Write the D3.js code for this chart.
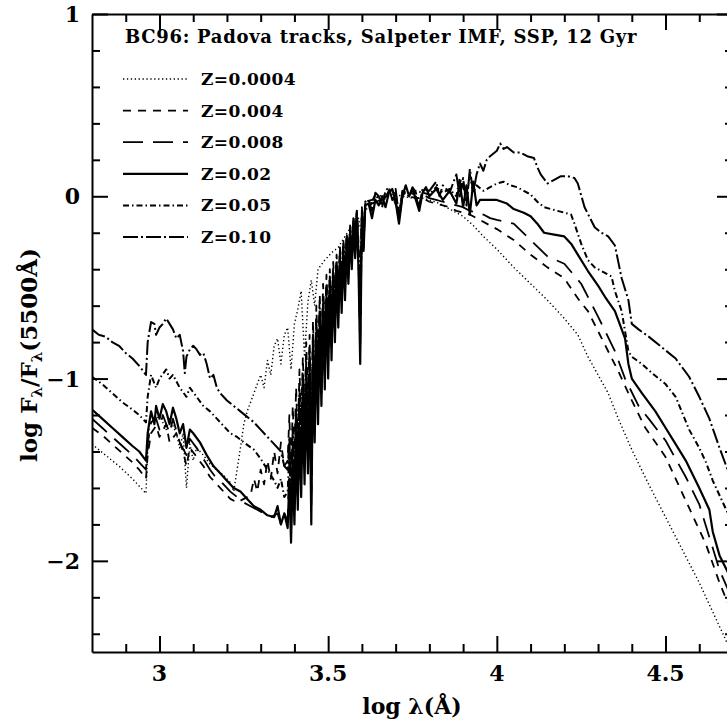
<!DOCTYPE html>
<html>
<head>
<meta charset="utf-8">
<script src="https://cdn.jsdelivr.net/npm/d3@7"></script>
<style>
  body { margin: 0; background: #fff; }
  svg text { font-family: "DejaVu Serif", serif; fill: #000; }
</style>
</head>
<body>
<div id="chart"></div>
<script>
// tick labels
var xTickLabels = [3, 3.5, 4, 4.5];
var yTickLabels = [1, 0, -1, -2];

var title = "BC96: Padova tracks, Salpeter IMF, SSP, 12 Gyr";
var seriesNames = ["Z=0.0004", "Z=0.004", "Z=0.008", "Z=0.02", "Z=0.05", "Z=0.10"];

// [log lambda, log F/F(5500)]
var z0004 = [[2.80,-1.36],[2.84,-1.42],[2.88,-1.48],[2.92,-1.55],[2.96,-1.63],[2.965,-1.40],[2.97,-1.25],[2.99,-1.22],[3.00,-1.20],[3.02,-1.28],[3.03,-1.22],[3.05,-1.30],[3.06,-1.38],[3.07,-1.30],[3.08,-1.60],[3.09,-1.36],[3.10,-1.45],[3.11,-1.38],[3.13,-1.42],[3.15,-1.47],[3.17,-1.50],[3.19,-1.53],[3.21,-1.57],[3.22,-1.62],[3.23,-1.50],[3.24,-1.38],[3.25,-1.25],[3.26,-1.18],[3.28,-1.08],[3.30,-0.98],[3.31,-1.05],[3.32,-0.90],[3.33,-0.98],[3.34,-0.82],[3.35,-0.78],[3.36,-0.92],[3.37,-0.76],[3.38,-0.72],[3.39,-0.95],[3.40,-0.70],[3.41,-0.62],[3.42,-0.52],[3.43,-0.88],[3.44,-0.58],[3.45,-0.46],[3.46,-0.60],[3.47,-0.40],[3.49,-0.35],[3.51,-0.31],[3.53,-0.28],[3.55,-0.22],[3.57,-0.16],[3.59,-0.12],[3.60,-0.22],[3.61,-0.08],[3.63,-0.03],[3.65,0.00],[3.67,0.01],[3.70,0.01],[3.72,0.00],[3.75,-0.01],[3.78,-0.01],[3.80,-0.02],[3.83,-0.04],[3.86,-0.07],[3.90,-0.11],[3.93,-0.16],[3.96,-0.22],[4.00,-0.29],[4.05,-0.39],[4.10,-0.48],[4.15,-0.57],[4.20,-0.67],[4.24,-0.76],[4.27,-0.88],[4.30,-0.98],[4.33,-1.08],[4.36,-1.22],[4.40,-1.39],[4.45,-1.58],[4.50,-1.76],[4.55,-1.94],[4.60,-2.12],[4.63,-2.24],[4.66,-2.36],[4.70,-2.52]];

var z004 = [[2.80,-1.27],[2.83,-1.31],[2.86,-1.36],[2.89,-1.41],[2.92,-1.46],[2.94,-1.50],[2.96,-1.55],[2.965,-1.42],[2.975,-1.30],[2.99,-1.26],[3.00,-1.32],[3.02,-1.25],[3.03,-1.35],[3.05,-1.30],[3.07,-1.40],[3.08,-1.48],[3.09,-1.38],[3.11,-1.43],[3.13,-1.48],[3.15,-1.54],[3.17,-1.58],[3.19,-1.62],[3.21,-1.66],[3.23,-1.68],[3.25,-1.66],[3.27,-1.64],[3.28,-1.55],[3.29,-1.62],[3.30,-1.50],[3.31,-1.58],[3.32,-1.45],[3.33,-1.55],[3.34,-1.40],[3.35,-1.52],[3.36,-1.35],[3.37,-1.48],[3.38,-1.45],[3.385,-1.20],[3.39,-1.55],[3.395,-1.15],[3.40,-1.40],[3.405,-1.05],[3.41,-1.35],[3.415,-0.95],[3.42,-1.25],[3.425,-0.88],[3.43,-1.20],[3.435,-0.80],[3.44,-1.15],[3.445,-0.76],[3.45,-1.35],[3.455,-0.68],[3.46,-1.00],[3.465,-0.60],[3.47,-0.92],[3.475,-0.54],[3.48,-0.85],[3.485,-0.48],[3.49,-0.75],[3.495,-0.43],[3.50,-0.70],[3.505,-0.40],[3.51,-0.62],[3.515,-0.36],[3.52,-0.55],[3.525,-0.32],[3.53,-0.50],[3.535,-0.28],[3.54,-0.42],[3.545,-0.24],[3.55,-0.38],[3.555,-0.20],[3.56,-0.32],[3.565,-0.16],[3.57,-0.25],[3.575,-0.12],[3.58,-0.20],[3.585,-0.08],[3.59,-0.25],[3.595,-0.55],[3.60,-0.06],[3.605,-0.20],[3.61,-0.03],[3.63,-0.02],[3.65,0.00],[3.67,0.00],[3.69,0.01],[3.71,-0.10],[3.72,0.00],[3.74,0.00],[3.76,-0.01],[3.78,-0.01],[3.80,-0.03],[3.82,-0.04],[3.84,-0.05],[3.86,-0.06],[3.88,-0.08],[3.90,-0.09],[3.92,-0.10],[3.95,-0.13],[4.00,-0.18],[4.05,-0.24],[4.10,-0.32],[4.15,-0.39],[4.20,-0.45],[4.24,-0.56],[4.27,-0.63],[4.30,-0.74],[4.33,-0.85],[4.36,-0.96],[4.40,-1.12],[4.44,-1.27],[4.50,-1.43],[4.57,-1.71],[4.62,-1.91],[4.66,-2.12],[4.70,-2.30]];

var z008 = [[2.80,-1.22],[2.83,-1.27],[2.86,-1.32],[2.89,-1.37],[2.92,-1.42],[2.94,-1.46],[2.96,-1.50],[2.965,-1.36],[2.975,-1.24],[2.99,-1.22],[3.00,-1.28],[3.01,-1.20],[3.03,-1.30],[3.04,-1.22],[3.06,-1.35],[3.08,-1.42],[3.09,-1.33],[3.11,-1.38],[3.13,-1.44],[3.15,-1.50],[3.17,-1.55],[3.19,-1.58],[3.21,-1.62],[3.23,-1.65],[3.25,-1.68],[3.27,-1.70],[3.29,-1.72],[3.31,-1.74],[3.33,-1.76],[3.35,-1.74],[3.36,-1.80],[3.37,-1.74],[3.38,-1.78],[3.385,-1.45],[3.39,-1.86],[3.395,-1.40],[3.40,-1.72],[3.405,-1.28],[3.41,-1.65],[3.415,-1.18],[3.42,-1.55],[3.425,-1.08],[3.43,-1.48],[3.435,-1.00],[3.44,-1.42],[3.445,-0.95],[3.45,-1.72],[3.455,-0.85],[3.46,-1.25],[3.465,-0.76],[3.47,-1.15],[3.475,-0.68],[3.48,-1.08],[3.485,-0.60],[3.49,-0.98],[3.495,-0.54],[3.50,-0.92],[3.505,-0.48],[3.51,-0.82],[3.515,-0.43],[3.52,-0.74],[3.525,-0.38],[3.53,-0.66],[3.535,-0.33],[3.54,-0.58],[3.545,-0.28],[3.55,-0.52],[3.555,-0.24],[3.56,-0.45],[3.565,-0.19],[3.57,-0.36],[3.575,-0.14],[3.58,-0.30],[3.585,-0.10],[3.59,-0.35],[3.595,-0.85],[3.60,-0.10],[3.605,-0.28],[3.61,-0.05],[3.62,-0.05],[3.64,-0.03],[3.66,-0.02],[3.68,0.01],[3.70,-0.02],[3.71,-0.14],[3.72,0.00],[3.74,0.00],[3.76,0.00],[3.77,-0.06],[3.78,0.01],[3.80,-0.01],[3.82,-0.02],[3.84,-0.03],[3.86,-0.04],[3.88,-0.05],[3.90,-0.06],[3.92,-0.08],[3.94,-0.09],[3.96,-0.10],[3.98,-0.12],[4.00,-0.13],[4.05,-0.15],[4.10,-0.24],[4.15,-0.33],[4.20,-0.37],[4.25,-0.48],[4.30,-0.66],[4.35,-0.85],[4.38,-1.00],[4.42,-1.15],[4.45,-1.22],[4.50,-1.34],[4.56,-1.54],[4.60,-1.69],[4.63,-1.87],[4.66,-2.05],[4.70,-2.22]];

var z02 = [[2.80,-1.17],[2.83,-1.22],[2.86,-1.27],[2.89,-1.32],[2.92,-1.37],[2.94,-1.40],[2.96,-1.45],[2.965,-1.30],[2.975,-1.18],[2.985,-1.25],[2.99,-1.15],[3.00,-1.22],[3.01,-1.14],[3.02,-1.18],[3.03,-1.25],[3.04,-1.16],[3.05,-1.22],[3.06,-1.30],[3.07,-1.25],[3.08,-1.38],[3.09,-1.28],[3.10,-1.30],[3.12,-1.35],[3.14,-1.42],[3.16,-1.48],[3.18,-1.52],[3.20,-1.56],[3.22,-1.60],[3.24,-1.62],[3.26,-1.66],[3.28,-1.70],[3.30,-1.72],[3.32,-1.75],[3.34,-1.76],[3.35,-1.70],[3.36,-1.80],[3.37,-1.74],[3.38,-1.82],[3.385,-1.55],[3.39,-1.90],[3.395,-1.50],[3.40,-1.80],[3.405,-1.38],[3.41,-1.72],[3.415,-1.28],[3.42,-1.65],[3.425,-1.18],[3.43,-1.58],[3.435,-1.08],[3.44,-1.52],[3.445,-1.02],[3.45,-1.80],[3.455,-0.92],[3.46,-1.35],[3.465,-0.82],[3.47,-1.25],[3.475,-0.74],[3.48,-1.15],[3.485,-0.66],[3.49,-1.06],[3.495,-0.58],[3.50,-1.00],[3.505,-0.52],[3.51,-0.90],[3.515,-0.46],[3.52,-0.80],[3.525,-0.41],[3.53,-0.72],[3.535,-0.36],[3.54,-0.64],[3.545,-0.30],[3.55,-0.57],[3.555,-0.26],[3.56,-0.48],[3.565,-0.21],[3.57,-0.40],[3.575,-0.16],[3.58,-0.34],[3.585,-0.12],[3.59,-0.40],[3.595,-0.92],[3.60,-0.12],[3.605,-0.30],[3.61,-0.05],[3.62,-0.04],[3.63,-0.12],[3.64,-0.02],[3.65,-0.05],[3.66,0.00],[3.67,-0.06],[3.68,0.02],[3.69,0.04],[3.70,-0.03],[3.71,-0.15],[3.72,0.00],[3.73,0.06],[3.74,0.00],[3.75,0.04],[3.76,-0.02],[3.77,-0.08],[3.78,0.02],[3.79,0.05],[3.80,0.00],[3.82,0.04],[3.84,-0.02],[3.86,0.03],[3.88,-0.04],[3.89,0.08],[3.90,-0.06],[3.91,0.06],[3.92,-0.10],[3.93,0.08],[3.94,-0.05],[3.95,-0.02],[3.97,-0.02],[4.00,-0.02],[4.03,-0.04],[4.05,-0.07],[4.08,-0.09],[4.10,-0.11],[4.12,-0.15],[4.14,-0.20],[4.17,-0.21],[4.20,-0.22],[4.22,-0.26],[4.24,-0.32],[4.27,-0.41],[4.30,-0.49],[4.32,-0.55],[4.35,-0.63],[4.38,-0.78],[4.39,-0.92],[4.40,-1.00],[4.43,-1.08],[4.47,-1.18],[4.50,-1.27],[4.53,-1.36],[4.56,-1.45],[4.60,-1.60],[4.63,-1.72],[4.64,-1.84],[4.66,-1.97],[4.70,-2.12]];

var z05 = [[2.80,-0.99],[2.83,-1.03],[2.86,-1.08],[2.89,-1.13],[2.92,-1.17],[2.94,-1.20],[2.96,-1.24],[2.965,-1.10],[2.975,-0.98],[2.99,-1.05],[3.00,-1.00],[3.02,-0.95],[3.03,-1.00],[3.04,-0.98],[3.06,-1.05],[3.08,-1.10],[3.09,-1.05],[3.11,-1.10],[3.13,-1.15],[3.15,-1.18],[3.17,-1.22],[3.19,-1.26],[3.21,-1.30],[3.23,-1.32],[3.25,-1.35],[3.28,-1.39],[3.30,-1.44],[3.32,-1.50],[3.34,-1.56],[3.35,-1.60],[3.36,-1.55],[3.37,-1.65],[3.38,-1.62],[3.385,-1.40],[3.39,-1.75],[3.395,-1.35],[3.40,-1.62],[3.405,-1.22],[3.41,-1.55],[3.415,-1.12],[3.42,-1.46],[3.425,-1.02],[3.43,-1.40],[3.435,-0.94],[3.44,-1.35],[3.445,-0.88],[3.45,-1.62],[3.455,-0.80],[3.46,-1.18],[3.465,-0.72],[3.47,-1.08],[3.475,-0.64],[3.48,-1.00],[3.485,-0.57],[3.49,-0.90],[3.495,-0.51],[3.50,-0.84],[3.505,-0.46],[3.51,-0.75],[3.515,-0.41],[3.52,-0.68],[3.525,-0.36],[3.53,-0.60],[3.535,-0.32],[3.54,-0.53],[3.545,-0.27],[3.55,-0.47],[3.555,-0.23],[3.56,-0.40],[3.565,-0.18],[3.57,-0.33],[3.575,-0.13],[3.58,-0.27],[3.585,-0.09],[3.59,-0.33],[3.595,-0.70],[3.60,-0.10],[3.605,-0.25],[3.61,-0.04],[3.63,-0.03],[3.64,0.01],[3.66,-0.04],[3.68,0.03],[3.70,0.02],[3.71,-0.10],[3.72,0.02],[3.74,0.00],[3.76,0.03],[3.78,0.02],[3.80,0.01],[3.82,0.05],[3.84,0.02],[3.86,0.04],[3.88,0.00],[3.89,0.10],[3.90,0.05],[3.91,-0.02],[3.92,0.12],[3.93,0.02],[3.94,0.06],[3.96,0.03],[3.98,0.05],[4.00,0.07],[4.02,0.08],[4.04,0.06],[4.06,0.05],[4.08,0.03],[4.10,0.01],[4.12,-0.03],[4.14,-0.06],[4.16,-0.07],[4.18,-0.08],[4.20,-0.09],[4.22,-0.10],[4.23,-0.15],[4.25,-0.26],[4.27,-0.35],[4.29,-0.39],[4.31,-0.41],[4.34,-0.44],[4.35,-0.52],[4.37,-0.63],[4.39,-0.85],[4.40,-0.88],[4.43,-0.92],[4.46,-0.97],[4.50,-1.03],[4.53,-1.10],[4.57,-1.28],[4.60,-1.38],[4.62,-1.46],[4.64,-1.56],[4.67,-1.68],[4.70,-1.80]];

var z10 = [[2.80,-0.73],[2.82,-0.76],[2.84,-0.77],[2.86,-0.80],[2.88,-0.82],[2.90,-0.86],[2.92,-0.89],[2.94,-0.93],[2.96,-0.98],[2.965,-0.80],[2.975,-0.69],[2.985,-0.70],[2.99,-0.76],[3.00,-0.72],[3.01,-0.70],[3.02,-0.67],[3.03,-0.70],[3.04,-0.73],[3.05,-0.78],[3.06,-0.76],[3.07,-0.85],[3.075,-0.97],[3.08,-0.88],[3.09,-0.84],[3.10,-0.82],[3.11,-0.84],[3.12,-0.87],[3.13,-0.86],[3.14,-0.92],[3.15,-1.00],[3.16,-0.98],[3.17,-1.05],[3.18,-1.08],[3.20,-1.12],[3.22,-1.15],[3.24,-1.18],[3.26,-1.21],[3.28,-1.24],[3.30,-1.28],[3.32,-1.32],[3.34,-1.36],[3.36,-1.40],[3.37,-1.48],[3.38,-1.50],[3.385,-1.32],[3.39,-1.65],[3.395,-1.28],[3.40,-1.55],[3.405,-1.16],[3.41,-1.45],[3.415,-1.06],[3.42,-1.38],[3.425,-0.97],[3.43,-1.30],[3.435,-0.90],[3.44,-1.25],[3.445,-0.84],[3.45,-1.52],[3.455,-0.76],[3.46,-1.10],[3.465,-0.68],[3.47,-1.00],[3.475,-0.61],[3.48,-0.92],[3.485,-0.55],[3.49,-0.84],[3.495,-0.49],[3.50,-0.78],[3.505,-0.44],[3.51,-0.70],[3.515,-0.39],[3.52,-0.62],[3.525,-0.35],[3.53,-0.55],[3.535,-0.30],[3.54,-0.48],[3.545,-0.26],[3.55,-0.42],[3.555,-0.22],[3.56,-0.36],[3.565,-0.17],[3.57,-0.30],[3.575,-0.12],[3.58,-0.24],[3.585,-0.08],[3.59,-0.30],[3.595,-0.62],[3.60,-0.08],[3.605,-0.22],[3.61,-0.03],[3.62,-0.02],[3.63,-0.08],[3.64,0.02],[3.65,0.00],[3.66,-0.06],[3.67,0.03],[3.68,0.05],[3.69,-0.02],[3.70,0.04],[3.71,-0.12],[3.72,0.03],[3.73,0.02],[3.74,0.00],[3.75,0.05],[3.76,0.02],[3.77,-0.05],[3.78,0.04],[3.80,0.03],[3.82,0.08],[3.83,0.00],[3.84,0.06],[3.86,0.02],[3.88,0.12],[3.89,0.00],[3.90,0.10],[3.91,-0.05],[3.92,0.15],[3.93,0.02],[3.94,0.12],[3.95,0.18],[3.96,0.14],[3.97,0.20],[3.98,0.22],[4.00,0.25],[4.01,0.29],[4.02,0.26],[4.03,0.27],[4.05,0.24],[4.07,0.24],[4.09,0.22],[4.11,0.21],[4.12,0.16],[4.13,0.12],[4.15,0.07],[4.17,0.09],[4.19,0.11],[4.21,0.11],[4.23,0.10],[4.24,0.07],[4.26,-0.06],[4.29,-0.17],[4.31,-0.20],[4.33,-0.22],[4.35,-0.27],[4.37,-0.45],[4.39,-0.57],[4.40,-0.70],[4.42,-0.73],[4.45,-0.77],[4.49,-0.83],[4.53,-0.89],[4.57,-0.99],[4.60,-1.10],[4.63,-1.22],[4.66,-1.38],[4.70,-1.58]];

var seriesData = [z0004, z004, z008, z02, z05, z10];
// line styles for each metallicity
var dashes = ["1.3,2.6", "8,7", "20,10", null, "6,3,1.5,3", "15,3,2,3"];
var widths = [1.4, 1.8, 1.8, 2.2, 2.0, 2.0];

var width = 727, height = 723;
var margin = {left: 92, top: 14, right: 733, bottom: 652};

var svg = d3.select("#chart").append("svg")
    .attr("width", width)
    .attr("height", height);

var x = d3.scaleLinear().domain([2.8, 4.7]).range([margin.left, margin.right]);
var y = d3.scaleLinear().domain([-2.5, 1]).range([margin.bottom, margin.top]);

var plot = svg.append("g");
plot.append("clipPath").attr("id", "clip")
    .append("rect")
    .attr("x", margin.left).attr("y", margin.top)
    .attr("width", margin.right - margin.left).attr("height", margin.bottom - margin.top);

var line = d3.line().x(function(d) { return x(d[0]); }).y(function(d) { return y(d[1]); });

var curves = plot.append("g").attr("clip-path", "url(#clip)");
seriesData.forEach(function(s, i) {
    curves.append("path")
        .datum(s)
        .attr("d", line)
        .attr("fill", "none")
        .attr("stroke", "#000")
        .attr("stroke-width", widths[i])
        .attr("stroke-linejoin", "round")
        .attr("stroke-dasharray", dashes[i]);
});

// frame with inward ticks on all sides
var xMinor = d3.range(2.9, 4.71, 0.1).map(function(v) { return Math.round(v * 10) / 10; });
var yMinor = d3.range(-2.4, 1.01, 0.2).map(function(v) { return Math.round(v * 10) / 10; });
var isMajorX = function(v) { return Math.abs(v * 2 - Math.round(v * 2)) < 1e-6; };
var isMajorY = function(v) { return Math.abs(v - Math.round(v)) < 1e-6; };

var bottomAxis = d3.axisBottom(x).tickValues(xMinor).tickSizeInner(0).tickSizeOuter(0).tickFormat("");
svg.append("g").attr("transform", "translate(0," + margin.bottom + ")").call(bottomAxis)
    .call(function(g) {
        g.select(".domain").attr("stroke-width", 2);
        g.selectAll(".tick line").attr("stroke-width", 2)
            .attr("y2", function(d) { return isMajorX(d) ? -16 : -8; });
    });
var topAxis = d3.axisTop(x).tickValues(xMinor).tickSizeInner(0).tickSizeOuter(0).tickFormat("");
svg.append("g").attr("transform", "translate(0," + margin.top + ")").call(topAxis)
    .call(function(g) {
        g.select(".domain").attr("stroke-width", 2);
        g.selectAll(".tick line").attr("stroke-width", 2)
            .attr("y2", function(d) { return isMajorX(d) ? 16 : 8; });
    });
var leftAxis = d3.axisLeft(y).tickValues(yMinor).tickSizeInner(0).tickSizeOuter(0).tickFormat("");
svg.append("g").attr("transform", "translate(" + margin.left + ",0)").call(leftAxis)
    .call(function(g) {
        g.select(".domain").attr("stroke-width", 2);
        g.selectAll(".tick line").attr("stroke-width", 2)
            .attr("x2", function(d) { return isMajorY(d) ? 16 : 8; });
    });
var rightAxis = d3.axisRight(y).tickValues(yMinor).tickSizeInner(0).tickSizeOuter(0).tickFormat("");
svg.append("g").attr("transform", "translate(" + margin.right + ",0)").call(rightAxis)
    .call(function(g) {
        g.select(".domain").attr("stroke-width", 2);
        g.selectAll(".tick line").attr("stroke-width", 2)
            .attr("x2", function(d) { return isMajorY(d) ? -16 : -8; });
    });

// tick labels
svg.append("g").selectAll("text").data(xTickLabels).enter().append("text")
    .attr("x", function(d) { return x(d); })
    .attr("y", margin.bottom + 29)
    .attr("text-anchor", "middle")
    .attr("font-size", 22)
    .attr("font-weight", "bold")
    .text(function(d) { return d; });

svg.append("g").selectAll("text").data(yTickLabels).enter().append("text")
    .attr("x", 80)
    .attr("y", function(d) { return y(d) + 8; })
    .attr("text-anchor", "end")
    .attr("font-size", 22)
    .attr("font-weight", "bold")
    .text(function(d) { return d < 0 ? "\u2212" + Math.abs(d) : d; });

// axis titles
svg.append("text")
    .attr("x", 412).attr("y", 714)
    .attr("text-anchor", "middle")
    .attr("font-size", 22)
    .attr("font-weight", "bold")
    .text("log \u03bb(\u00c5)");

var yt = svg.append("text")
    .attr("transform", "translate(37,355) rotate(-90)")
    .attr("text-anchor", "middle")
    .attr("font-size", 23)
    .attr("font-weight", "bold");
yt.append("tspan").text("log F");
yt.append("tspan").attr("font-size", 15).attr("dy", 5).text("\u03bb");
yt.append("tspan").attr("dy", -5).text("/F");
yt.append("tspan").attr("font-size", 15).attr("dy", 5).text("\u03bb");
yt.append("tspan").attr("dy", -5).text("(5500\u00c5)");

// title and legend
svg.append("text")
    .attr("x", 125).attr("y", 43)
    .attr("font-size", 18)
    .attr("font-weight", "bold")
    .attr("letter-spacing", 0.7)
    .text(title);

var legend = svg.append("g").selectAll("g").data(seriesNames).enter().append("g")
    .attr("transform", function(d, i) { return "translate(0," + (79 + i * 31.6) + ")"; });
legend.append("line")
    .attr("x1", 123).attr("x2", 188)
    .attr("stroke", "#000")
    .attr("stroke-width", function(d, i) { return widths[i]; })
    .attr("stroke-dasharray", function(d, i) { return dashes[i]; });
legend.append("text")
    .attr("x", 201).attr("y", 6)
    .attr("font-size", 17)
    .attr("font-weight", "bold")
    .attr("letter-spacing", 0.4)
    .text(function(d) { return d; });
</script>
</body>
</html>
